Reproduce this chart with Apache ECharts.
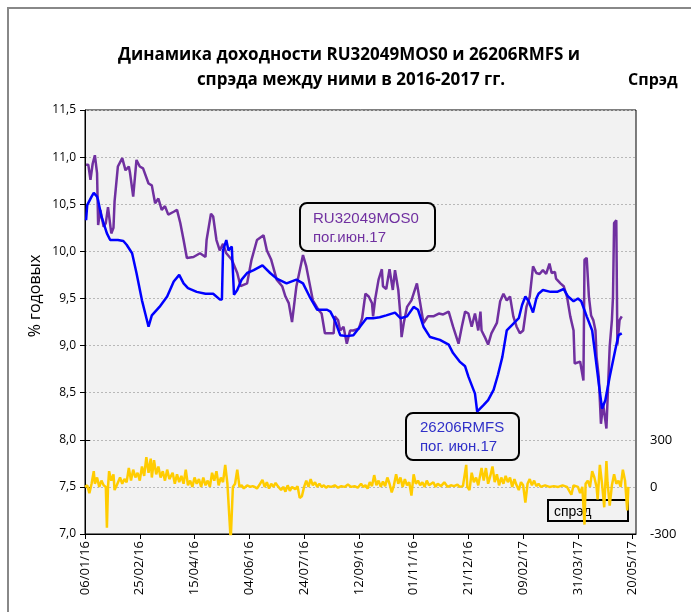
<!DOCTYPE html>
<html>
<head>
<meta charset="utf-8">
<script src="https://cdn.jsdelivr.net/npm/echarts@6/dist/echarts.min.js"></script>
<style>
html, body { margin: 0; padding: 0; background: #fff; }
#main { width: 691px; height: 612px; }
</style>
</head>
<body>
<div id="main"></div>
<script>
// все даты - дни от 06.01.2016
var startDate = Date.UTC(2016, 0, 6);

// RU32049MOS0, % годовых
var ruDays = [1,3,5,7,9,11,12,14,15,17,
  19,21,24,26,27,30,34,37,40,41,
  44,47,50,53,58,61,64,67,70,73,
  76,81,84,87,90,93,99,105,110,111,
  115,117,120,123,126,129,134,139,142,148,
  152,157,163,166,170,175,180,183,186,189,
  193,199,202,205,208,213,216,219,222,227,
  228,231,233,236,239,242,245,250,253,256,
  259,262,263,265,268,271,272,275,278,281,
  283,286,288,289,291,294,298,303,306,309,
  313,318,323,327,332,336,341,344,347,350,
  353,356,359,361,362,365,368,371,376,379,
  382,385,388,391,394,397,400,403,406,409,
  412,415,418,421,424,426,429,430,434,437,
  440,443,446,447,452,455,456,458,459,460,
  462,464,466,467,469,470,471,473,476,478,
  479,481,482,483,485,486,488,490];
var ruYield = [10.92,10.92,10.76,10.93,11.02,10.83,10.28,10.44,10.45,10.26,
  10.30,10.47,10.19,10.25,10.53,10.90,10.99,10.86,10.90,10.84,
  10.58,10.97,10.90,10.88,10.72,10.70,10.51,10.56,10.44,10.48,
  10.39,10.42,10.44,10.30,10.12,9.93,9.94,9.98,9.94,10.12,
  10.40,10.37,10.12,10.01,10.08,9.98,9.91,9.77,9.63,9.66,
  9.91,10.12,10.17,10.01,9.91,9.70,9.63,9.52,9.45,9.25,
  9.63,9.96,9.84,9.66,9.48,9.38,9.34,9.13,9.13,9.13,
  9.31,9.27,9.16,9.20,9.02,9.16,9.16,9.18,9.29,9.55,
  9.52,9.45,9.31,9.50,9.70,9.81,9.63,9.60,9.81,9.59,
  9.80,9.59,9.31,9.09,9.24,9.41,9.48,9.66,9.45,9.24,
  9.31,9.31,9.34,9.33,9.36,9.20,9.02,9.20,9.36,9.34,
  9.20,9.34,9.16,9.36,9.16,9.09,9.01,9.13,9.24,9.47,
  9.55,9.48,9.52,9.31,9.20,9.13,9.16,9.41,9.52,9.84,
  9.77,9.76,9.80,9.76,9.87,9.77,9.78,9.71,9.66,9.63,
  9.52,9.31,9.16,8.81,8.83,8.63,9.91,9.93,9.95,9.52,
  9.32,9.27,9.16,8.88,8.67,8.67,8.17,8.38,8.12,8.71,
  8.99,9.27,9.52,10.30,10.33,9.01,9.27,9.31];

// 26206RMFS, % годовых
var ofzDays = [1,2,6,8,11,12,15,20,23,26,
  30,35,38,43,47,52,55,58,61,68,
  75,81,86,90,94,102,110,117,123,125,
  126,129,131,132,134,136,139,143,148,154,
  162,169,175,184,193,199,205,212,221,224,
  228,233,239,245,251,257,263,269,275,283,
  288,294,300,304,309,315,324,332,336,342,
  347,350,353,356,358,364,368,373,377,381,
  385,390,396,399,402,405,409,412,414,418,
  425,431,437,441,446,450,453,458,463,466,
  469,472,475,479,484,487,490];
var ofzYield = [10.33,10.49,10.58,10.62,10.58,10.54,10.37,10.19,10.12,10.12,
  10.12,10.11,10.07,9.98,9.77,9.48,9.34,9.20,9.32,9.41,
  9.52,9.68,9.75,9.66,9.61,9.57,9.55,9.55,9.49,9.49,
  10.01,10.12,10.01,10.00,10.05,9.54,9.59,9.70,9.77,9.80,
  9.85,9.77,9.71,9.66,9.70,9.66,9.52,9.38,9.38,9.36,
  9.27,9.11,9.10,9.11,9.20,9.29,9.29,9.30,9.32,9.35,
  9.29,9.31,9.41,9.38,9.20,9.09,9.06,9.01,8.92,8.83,
  8.78,8.67,8.58,8.49,8.30,8.37,8.42,8.53,8.69,8.88,
  9.16,9.22,9.29,9.43,9.52,9.47,9.35,9.50,9.55,9.59,
  9.57,9.57,9.60,9.52,9.47,9.50,9.47,9.31,9.16,8.88,
  8.60,8.33,8.42,8.67,8.95,9.11,9.13];

// спрэд, б.п.
var spreadDays = [0,2,4,6,8,9,11,13,15,17,
  19,20,21,22,24,26,27,29,32,34,
  36,38,40,42,44,46,48,50,52,54,
  56,58,60,61,63,65,67,69,71,73,
  75,77,80,82,84,86,88,90,92,94,
  96,98,100,102,104,106,108,110,112,114,
  116,118,120,122,124,126,128,130,133,135,
  137,139,141,143,145,148,151,153,155,157,
  159,162,164,166,168,170,172,174,176,179,
  181,183,185,187,189,192,194,196,198,200,
  202,204,206,208,210,212,214,216,218,220,
  222,225,228,231,234,237,240,243,246,249,
  252,254,256,258,260,262,264,266,268,270,
  272,274,276,278,280,282,284,286,288,290,
  292,294,296,298,300,302,304,306,308,310,
  312,314,318,320,322,325,328,331,334,337,
  340,342,345,348,349,351,353,355,357,359,
  362,364,366,368,370,372,374,376,378,380,
  382,384,386,388,390,392,394,396,398,400,
  402,404,406,408,410,412,414,416,420,424,
  428,432,436,440,444,446,450,452,454,456,
  457,459,461,463,465,467,468,470,472,474,
  476,477,479,481,483,485,487,489,491,493,
  495,496];
var spreadBp = [0,10,-40,20,100,20,60,0,40,10,
  0,-260,0,100,40,80,-20,10,60,20,
  50,30,120,40,110,60,90,40,130,70,
  190,90,180,60,170,80,130,60,100,40,
  110,50,90,20,80,30,70,20,110,10,
  40,0,60,20,50,0,60,10,40,0,
  90,40,100,10,60,30,140,20,-340,0,
  20,110,0,10,-10,10,0,5,0,-10,
  10,45,0,30,-10,20,0,25,5,-20,
  0,-30,10,-25,0,-15,5,-70,-60,0,
  40,0,50,10,30,0,20,0,10,-5,
  5,0,10,-5,5,0,15,0,5,-5,
  20,0,10,-10,30,5,75,10,40,0,
  35,5,60,20,-35,10,80,20,60,0,
  50,10,30,-55,80,20,40,10,30,0,
  40,10,30,0,20,5,30,0,10,5,
  15,0,5,140,0,-20,90,30,60,10,
  120,40,120,20,70,130,30,80,10,60,
  20,70,30,60,0,50,10,-20,30,10,
  -100,20,50,10,40,5,20,0,10,0,
  5,0,10,0,-50,10,0,-40,0,-240,
  20,40,0,100,60,0,-80,140,20,-130,
  165,30,-120,10,80,20,40,0,110,40,
  -150,0];

var leftTicks = { min: 7, max: 11.5, step: 0.5 };
var rightTicks = { min: -300, max: 300, step: 300 };
var xTicks = { min: 0, max: 503, step: 50 };

function pairs(xs, ys) {
  var out = [];
  for (var i = 0; i < xs.length; i++) out.push([xs[i], ys[i]]);
  return out;
}
function dayLabel(v) {
  if (v % xTicks.step !== 0) return '';
  var d = new Date(startDate + v * 86400000);
  var p = function (n) { return (n < 10 ? '0' : '') + n; };
  return p(d.getUTCDate()) + '/' + p(d.getUTCMonth() + 1) + '/' + p(d.getUTCFullYear() % 100);
}

var FONT = 'Open Sans';
var chart = echarts.init(document.getElementById('main'), null, { renderer: 'canvas' });

var option = {
  animation: false,
  backgroundColor: '#fff',
  textStyle: { fontFamily: FONT },
  grid: [
    { left: 85, top: 110, width: 551, height: 424, show: true,
      backgroundColor: '#f2f2f2', borderColor: '#000', borderWidth: 1 },
    { left: 85, top: 439.8, width: 551, height: 94.2 }
  ],
  xAxis: [
    {
      gridIndex: 0, type: 'value',
      min: xTicks.min, max: xTicks.max, interval: xTicks.step,
      axisLine: { show: true, lineStyle: { color: '#000', width: 1 } },
      axisTick: { show: true, length: 5, lineStyle: { color: '#000' } },
      splitLine: { show: false },
      axisLabel: { rotate: 90, margin: 7, fontSize: 13, color: '#000',
        fontFamily: FONT, formatter: dayLabel, showMaxLabel: false }
    },
    { gridIndex: 1, type: 'value', min: xTicks.min, max: xTicks.max, show: false }
  ],
  yAxis: [
    {
      gridIndex: 0, type: 'value',
      min: leftTicks.min, max: leftTicks.max, interval: leftTicks.step,
      axisLine: { show: true, lineStyle: { color: '#000', width: 1 } },
      axisTick: { show: true, length: 5, lineStyle: { color: '#000' } },
      splitLine: { show: true, lineStyle: { color: '#b8b8b8', type: [2, 2], width: 1 } },
      axisLabel: { margin: 9, fontSize: 12, color: '#000', fontFamily: FONT,
        formatter: function (v) { return v.toFixed(1).replace('.', ','); } }
    },
    {
      gridIndex: 1, type: 'value', position: 'right',
      min: rightTicks.min, max: rightTicks.max, interval: rightTicks.step,
      axisLine: { show: true, lineStyle: { color: '#000', width: 1 } },
      axisTick: { show: true, length: 5, lineStyle: { color: '#000' } },
      splitLine: { show: false },
      axisLabel: { margin: 14, fontSize: 13, color: '#000', fontFamily: FONT }
    }
  ],
  graphic: [
    { type: 'rect', shape: { x: 8, y: 8, width: 720, height: 640 }, z: 0,
      style: { fill: 'none', stroke: '#888', lineWidth: 2 } },
    { type: 'text', x: 349, y: 55, z: 10,
      style: { text: 'Динамика доходности RU32049MOS0 и 26206RMFS и', font: 'bold 17px "Open Sans"',
        fill: '#000', textAlign: 'center', textVerticalAlign: 'middle' } },
    { type: 'text', x: 351, y: 80, z: 10,
      style: { text: 'спрэда между ними в 2016-2017 гг.', font: 'bold 17px "Open Sans"',
        fill: '#000', textAlign: 'center', textVerticalAlign: 'middle' } },
    { type: 'text', x: 628, y: 80, z: 10,
      style: { text: 'Спрэд', font: 'bold 16px "Open Sans"', fill: '#000',
        textAlign: 'left', textVerticalAlign: 'middle' } },
    { type: 'text', x: 35, y: 296, rotation: Math.PI / 2, z: 10,
      style: { text: '% годовых', font: '16px "Open Sans"', fill: '#000',
        textAlign: 'center', textVerticalAlign: 'middle' } },
    // подписи выпусков
    { type: 'rect', shape: { x: 300, y: 203, width: 135, height: 48, r: 7 }, z: 1,
      style: { fill: '#f2f2f2', stroke: '#000', lineWidth: 2 } },
    { type: 'text', x: 313, y: 219, z: 1,
      style: { text: 'RU32049MOS0', font: '15px "Liberation Sans"', fill: '#7030a0',
        textVerticalAlign: 'middle' } },
    { type: 'text', x: 313, y: 238, z: 1,
      style: { text: 'пог.июн.17', font: '15px "Liberation Sans"', fill: '#7030a0',
        textVerticalAlign: 'middle' } },
    { type: 'rect', shape: { x: 406, y: 413, width: 113, height: 47, r: 7 }, z: 1,
      style: { fill: '#f2f2f2', stroke: '#000', lineWidth: 2 } },
    { type: 'text', x: 420, y: 428, z: 1,
      style: { text: '26206RMFS', font: '15px "Liberation Sans"', fill: '#3030c8',
        textVerticalAlign: 'middle' } },
    { type: 'text', x: 420, y: 447, z: 1,
      style: { text: 'пог. июн.17', font: '15px "Liberation Sans"', fill: '#3030c8',
        textVerticalAlign: 'middle' } },
    // легенда спрэда
    { type: 'rect', shape: { x: 548, y: 500, width: 80, height: 21 }, z: 1,
      style: { fill: '#f2f2f2', stroke: '#000', lineWidth: 2 } },
    { type: 'text', x: 554, y: 512, z: 1,
      style: { text: 'спрэд', font: '14px "Liberation Sans"', fill: '#000',
        textVerticalAlign: 'middle' } }
  ],
  series: [
    {
      name: 'RU32049MOS0', type: 'line', xAxisIndex: 0, yAxisIndex: 0,
      data: pairs(ruDays, ruYield), showSymbol: false, symbol: 'none', z: 3,
      lineStyle: { color: '#7030a0', width: 2.5 }
    },
    {
      name: '26206RMFS', type: 'line', xAxisIndex: 0, yAxisIndex: 0,
      data: pairs(ofzDays, ofzYield), showSymbol: false, symbol: 'none', z: 4,
      lineStyle: { color: '#0000ff', width: 2.5 }
    },
    {
      name: 'спрэд', type: 'line', xAxisIndex: 1, yAxisIndex: 1,
      data: pairs(spreadDays, spreadBp), showSymbol: false, symbol: 'none', z: 3,
      clip: true,
      lineStyle: { color: '#ffcc00', width: 2.5 }
    }
  ]
};
chart.setOption(option);
</script>
</body>
</html>
